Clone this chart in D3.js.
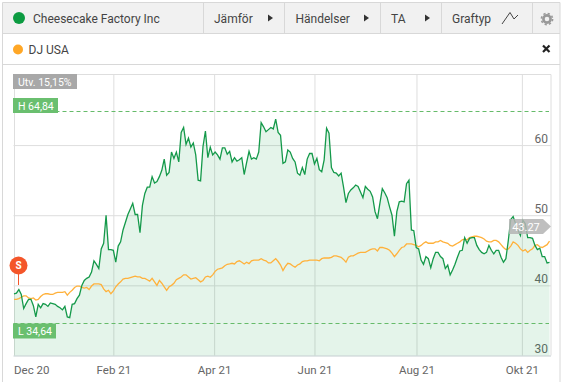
<!DOCTYPE html>
<html>
<head>
<meta charset="utf-8">
<script src="https://cdn.jsdelivr.net/npm/d3@7"></script>
<style>
    html, body { margin: 0; padding: 0; background: #fff; }
    svg { display: block; font-family: Roboto, sans-serif; }
</style>
</head>
<body>
<div id="chart"></div>
<script>
// closing prices per trading session
const stockValues = [
    38.8, 38.9, 39.4, 38.7, 36.7, 37.4, 38.0, 38.0, 37.1, 35.5,
    37.3, 36.8, 37.4, 37.3, 37.0, 37.5, 37.4, 37.3, 37.0, 36.8,
    36.5, 37.0, 35.5, 35.4, 37.3, 37.4, 38.1, 38.6, 40.0, 40.7,
    41.0, 41.2, 41.9, 43.5, 43.0, 42.4, 45.2, 46.0, 50.0, 45.1,
    45.1, 45.0, 43.3, 45.6, 46.2, 47.9, 49.0, 50.1, 50.9, 51.7,
    50.1, 50.1, 47.5, 51.4, 53.1, 54.0, 54.0, 55.5, 54.6, 54.8,
    55.5, 56.4, 58.0, 55.7, 56.1, 59.0, 58.1, 59.0, 57.6, 61.8,
    62.5, 60.1, 61.0, 59.7, 60.3, 58.6, 55.0, 54.9, 59.8, 62.0,
    58.2, 59.7, 58.6, 59.0, 58.6, 58.0, 59.6, 59.6, 58.7, 59.1,
    57.6, 58.2, 57.7, 57.9, 58.2, 55.8, 57.5, 59.1, 58.0, 58.2,
    58.0, 59.0, 63.2, 62.6, 61.9, 62.2, 62.5, 62.3, 63.7, 61.8,
    61.4, 57.4, 57.6, 59.3, 59.0, 58.1, 57.6, 56.0, 55.7, 56.8,
    55.8, 58.0, 58.8, 58.8, 57.3, 58.1, 56.5, 56.2, 57.9, 62.4,
    61.7, 56.8, 56.1, 56.0, 55.6, 56.0, 54.0, 51.8, 53.1, 53.6,
    53.9, 54.3, 54.1, 53.3, 52.5, 54.1, 53.7, 53.4, 52.6, 50.5,
    49.5, 51.7, 53.8, 53.2, 52.5, 51.2, 50.0, 47.0, 50.5, 51.9,
    52.0, 51.9, 54.5, 55.0, 47.9, 47.8, 45.4, 45.2, 43.6, 43.0,
    44.1, 43.8, 42.5, 43.8, 44.7, 44.7, 44.1, 43.8, 42.4, 42.9,
    41.5, 42.2, 43.0, 44.0, 44.9, 45.0, 46.8, 46.0, 46.7, 46.8,
    46.8, 45.7, 45.1, 44.7, 44.5, 44.7, 45.7, 45.0, 44.5, 45.0,
    45.0, 44.0, 43.3, 43.8, 46.4, 49.4, 49.8, 48.8, 47.9, 47.1,
    49.3, 48.8, 46.8, 46.8, 46.7, 45.7, 45.1, 45.3, 44.1, 44.1,
    43.2, 43.27
];

// DJ USA, rebased on the same axis
const indexValues = [
    38.0, 38.0, 38.1, 38.3, 38.5, 38.5, 38.2, 38.1, 38.2, 37.9,
    38.0, 38.4, 38.7, 38.8, 38.8, 38.7, 38.7, 38.9, 39.0, 39.0,
    39.0, 39.1, 38.6, 39.0, 39.3, 39.7, 39.9, 39.9, 39.7, 39.6,
    39.7, 39.4, 39.9, 40.2, 40.2, 40.2, 40.1, 39.5, 39.1, 39.3,
    38.8, 39.2, 39.8, 40.2, 40.5, 40.9, 41.0, 41.0, 41.1, 41.2,
    41.3, 41.2, 41.2, 41.0, 41.0, 40.8, 40.6, 41.0, 40.5, 40.0,
    40.7, 40.3, 39.8, 39.3, 39.8, 40.0, 40.3, 40.8, 41.0, 41.2,
    41.5, 41.5, 41.2, 40.9, 41.0, 41.1, 40.8, 40.5, 40.7, 41.2,
    41.3, 41.15, 41.5, 42.0, 42.3, 42.4, 42.5, 42.8, 43.0, 43.05,
    43.15, 43.05, 43.4, 43.5, 43.3, 43.05, 43.3, 43.1, 43.5, 43.6,
    43.6, 43.6, 43.8, 43.6, 43.5, 43.2, 43.2, 43.5, 43.8, 43.4,
    42.9, 42.1, 42.7, 43.15, 43.05, 42.8, 42.6, 42.9, 43.05, 43.4,
    43.5, 43.5, 43.6, 43.6, 43.6, 43.6, 43.5, 43.8, 43.9, 43.9,
    43.9, 44.0, 44.2, 44.2, 44.1, 44.0, 43.7, 43.3, 44.0, 44.2,
    44.2, 44.4, 44.6, 44.7, 44.7, 44.7, 44.9, 45.1, 45.2, 45.2,
    44.9, 45.4, 45.4, 45.3, 45.2, 45.0, 44.6, 44.1, 44.5, 45.0,
    45.4, 45.5, 45.9, 45.9, 45.9, 45.8, 45.7, 45.5, 45.7, 46.0,
    46.2, 46.0, 46.0, 46.0, 46.2, 46.2, 46.4, 46.2, 46.1, 46.0,
    45.7, 45.6, 45.8, 46.0, 46.2, 46.5, 46.6, 46.5, 46.8, 46.9,
    47.0, 47.0, 46.9, 46.8, 46.6, 46.3, 46.2, 46.2, 46.4, 46.4,
    46.2, 45.8, 45.4, 45.1, 45.2, 45.6, 46.2, 46.0, 45.7, 45.2,
    44.9, 45.1, 44.7, 45.0, 45.2, 45.7, 45.8, 45.5, 45.4, 45.6,
    45.8, 46.3
];

const xTickSessions = [0, 41, 82.6, 124, 166.1, 209.6];
const xTickLabels = ["Dec 20", "Feb 21", "Apr 21", "Jun 21", "Aug 21", "Okt 21"];
const yTicks = [30, 40, 50, 60];
const highValue = 64.84;
const lowValue = 34.64;
const lastValue = 43.27;
const toolbarItems = ["Jämför", "Händelser", "TA", "Graftyp"];

const width = 562;
const height = 382;
const plot = { left: 13.5, right: 551, top: 74.5, bottom: 355.5 };

const svg = d3.select("#chart")
    .append("svg")
    .attr("width", width)
    .attr("height", height);

const x = d3.scaleLinear()
    .domain([0, stockValues.length - 1])
    .range([14, 549.5]);

const y = d3.scaleLinear()
    .domain([30, 70.06])
    .range([plot.bottom, plot.top]);

// --- header rows ---
svg.append("rect").attr("x", 2.5).attr("y", 2.5).attr("width", 557.5).attr("height", 31)
    .attr("fill", "#f1f1f1");

const borders = "#d8d8d8";
[[2.5, 2.5, 2.5, height], [560, 2.5, 560, height], [2.5, 2.5, 560, 2.5], [2.5, 33.5, 560, 33.5], [2.5, 64.5, 560, 64.5],
 [203.5, 2.5, 203.5, 33.5], [284.5, 2.5, 284.5, 33.5], [380.5, 2.5, 380.5, 33.5], [441.5, 2.5, 441.5, 33.5], [532.5, 2.5, 532.5, 33.5]]
    .forEach(d => {
        svg.append("line")
            .attr("x1", d[0]).attr("y1", d[1]).attr("x2", d[2]).attr("y2", d[3])
            .attr("stroke", borders);
    });

svg.append("circle").attr("cx", 19).attr("cy", 18).attr("r", 6).attr("fill", "#0c9b41");
svg.append("text").attr("x", 33).attr("y", 23)
    .style("font-size", "12px").style("fill", "#444").text("Cheesecake Factory Inc");

svg.append("circle").attr("cx", 18).attr("cy", 49.5).attr("r", 5).attr("fill", "#ffa726");
svg.append("text").attr("x", 28.5).attr("y", 54)
    .style("font-size", "12px").style("fill", "#444").text("DJ USA");

const toolbarX = [214, 295.5, 391, 452];
toolbarItems.forEach((t, i) => {
    svg.append("text").attr("x", toolbarX[i]).attr("y", 23)
        .style("font-size", "12px").style("fill", "#444").text(t);
});

[268, 364, 425].forEach(px => {
    svg.append("path")
        .attr("d", `M${px},14.5L${px + 5},18L${px},21.5Z`)
        .attr("fill", "#333");
});

// chart type icon
svg.append("path")
    .attr("d", "M502,24L510,12.5L514,19L518,15")
    .attr("fill", "none").attr("stroke", "#444").attr("stroke-width", 1);

// settings gear
svg.append("circle").attr("cx", 547).attr("cy", 19).attr("r", 3.6)
    .attr("fill", "none").attr("stroke", "#999").attr("stroke-width", 2.6);
svg.append("circle").attr("cx", 547).attr("cy", 19).attr("r", 5.6)
    .attr("fill", "none").attr("stroke", "#999").attr("stroke-width", 1.6)
    .attr("stroke-dasharray", "2.2 2.2");

// close cross
svg.append("path")
    .attr("d", "M543,45.5L549.5,52M549.5,45.5L543,52")
    .attr("stroke", "#222").attr("stroke-width", 2.2);

// --- grid and axes ---
const gridColor = "#dedede";

svg.append("line").attr("x1", plot.left).attr("x2", plot.right)
    .attr("y1", plot.top).attr("y2", plot.top).attr("stroke", gridColor);
svg.append("line").attr("x1", plot.right).attr("x2", plot.right)
    .attr("y1", plot.top).attr("y2", plot.bottom).attr("stroke", gridColor);

const xAxis = svg.append("g")
    .attr("transform", `translate(0,${plot.bottom})`)
    .call(d3.axisBottom(x)
        .tickValues(xTickSessions)
        .tickFormat((d, i) => xTickLabels[i])
        .tickSize(-(plot.bottom - plot.top))
        .tickPadding(10));
xAxis.select(".domain").remove();
xAxis.selectAll("line").attr("stroke", gridColor);
xAxis.selectAll("text")
    .style("font-size", "11.5px")
    .style("font-family", "Roboto, sans-serif")
    .style("fill", "#666");
xAxis.selectAll("text").filter((d, i) => i === 0)
    .attr("text-anchor", "start")
    .attr("x", -0.5);

const yAxis = svg.append("g")
    .attr("transform", `translate(${plot.right},0)`)
    .call(d3.axisLeft(y)
        .tickValues(yTicks)
        .tickSize(plot.right - plot.left));
yAxis.select(".domain").remove();
yAxis.selectAll("line").attr("stroke", gridColor);
yAxis.selectAll("line").filter(d => d === 30).attr("stroke", "#c4cdd0");
yAxis.selectAll("text")
    .attr("x", -3)
    .attr("dy", "-0.25em")
    .attr("text-anchor", "end")
    .style("font-size", "12px")
    .style("font-family", "Roboto, sans-serif")
    .style("fill", "#666");

// --- series ---
const area = d3.area()
    .x((d, i) => x(i))
    .y0(plot.bottom)
    .y1(d => y(d));

const line = d3.line()
    .x((d, i) => x(i))
    .y(d => y(d));

svg.append("path")
    .datum(stockValues)
    .attr("d", area)
    .attr("fill", "#0c9b41")
    .attr("fill-opacity", 0.11);

svg.append("path")
    .datum(indexValues)
    .attr("d", line)
    .attr("fill", "none")
    .attr("stroke", "#ffb13b")
    .attr("stroke-width", 1.3);

svg.append("path")
    .datum(stockValues)
    .attr("d", line)
    .attr("fill", "none")
    .attr("stroke", "#14994a")
    .attr("stroke-width", 1.3);

// --- high / low markers ---
[highValue, lowValue].forEach(v => {
    svg.append("line")
        .attr("x1", plot.left).attr("x2", 549)
        .attr("y1", Math.round(y(v)) + 0.5).attr("y2", Math.round(y(v)) + 0.5)
        .attr("stroke", "#66bb6a")
        .attr("stroke-dasharray", "4 3");
});

function flag(px, py, w, h, fill, label) {
    svg.append("rect").attr("x", px).attr("y", py).attr("width", w).attr("height", h).attr("fill", fill);
    svg.append("text").attr("x", px + 5).attr("y", py + 11.5)
        .style("font-size", "10.5px").style("fill", "#fff").text(label);
}

flag(13, 74, 64, 15, "#a8a8a8", "Utv. 15,15%");
flag(13, 98, 45, 15, "#6abf6f", "H 64,84");
flag(13, 323.5, 43, 15, "#6abf6f", "L 34,64");

// --- split marker ---
svg.append("line").attr("x1", 18.5).attr("x2", 18.5).attr("y1", 270).attr("y2", 285)
    .attr("stroke", "#f4562a");
svg.append("circle").attr("cx", 18.5).attr("cy", 265.5).attr("r", 9).attr("fill", "#f4562a");
svg.append("text").attr("x", 18.5).attr("y", 269).attr("text-anchor", "middle")
    .style("font-size", "10px").style("font-weight", "700").style("fill", "#fff").text("S");

// --- last value callout ---
const lastY = 226.5;
svg.append("path")
    .attr("d", `M509,${lastY - 7.5}H543L551,${lastY}L543,${lastY + 7.5}H509Z`)
    .attr("fill", "#b4b4b4")
    .attr("fill-opacity", 0.85);
svg.append("text").attr("x", 526).attr("y", lastY + 4).attr("text-anchor", "middle")
    .style("font-size", "11px").style("fill", "#fff").text(lastValue.toFixed(2));
</script>
</body>
</html>
